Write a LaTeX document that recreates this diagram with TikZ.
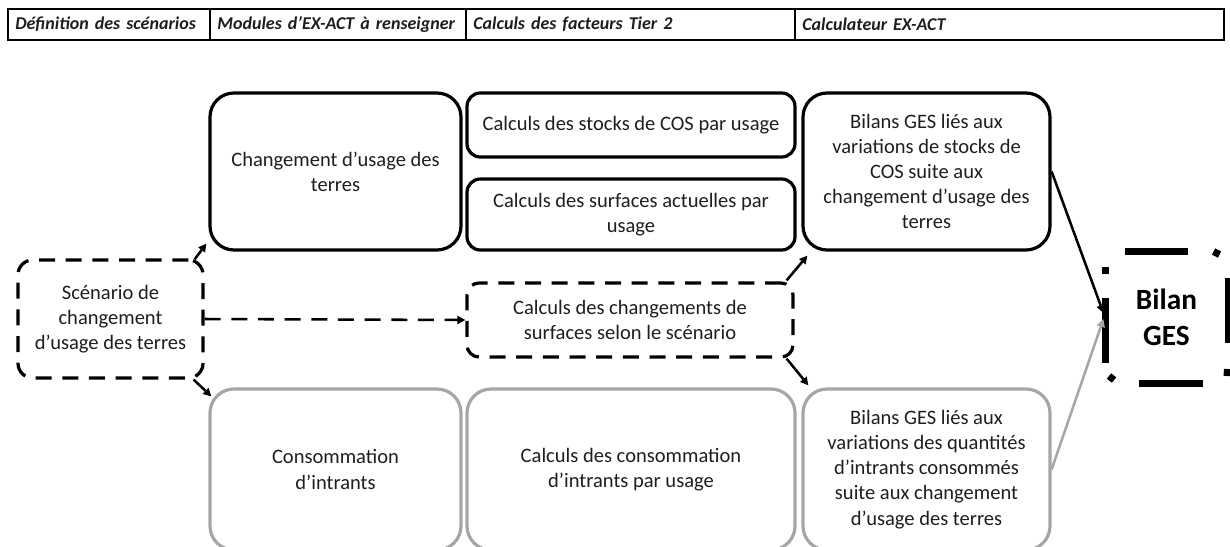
\documentclass[tikz,border=0pt]{standalone}
\usepackage{fontspec}
\setmainfont{Carlito}
\usepackage{xcolor}
\usetikzlibrary{arrows.meta}
\definecolor{ink}{HTML}{1E1E1E}
\definecolor{lightline}{HTML}{A6A6A6}

\begin{document}
\begin{tikzpicture}[x=0.75pt,y=-0.75pt,
    font=\fontsize{15.4}{18.8}\selectfont,text=ink,
    box/.style={draw=black,line width=2.4pt,rounded corners=18pt,align=center,inner sep=0pt},
    greybox/.style={box,draw=lightline},
    dashbox/.style={box,dash pattern=on 12pt off 8pt},
    hcell/.style={draw,line width=0.9pt,minimum height=23.25pt,inner xsep=5.5pt,align=left,
      font=\fontsize{13.5}{16}\selectfont\bfseries\itshape},
    bilanline/.style={line width=5.25pt},
    arr/.style={line width=1.9pt,-{Triangle[length=6pt,width=6pt]}}]
  \useasboundingbox (0,0) rectangle (1230,546);
  \clip (0,0) rectangle (1230,546);

  % bandeau
  \node[hcell,text width=140.5pt] (hdef) at (109,24.5) {Définition des scénarios};
  \node[hcell,text width=181pt] (hmod) at (338,24.5) {Modules d’EX-ACT à renseigner};
  \node[hcell,text width=235.75pt] (hfac) at (630.5,24.5) {Calculs des facteurs Tier 2};
  \node[hcell,text width=310.75pt] (hcal) at (1009.5,24.5) {Calculateur EX-ACT};

  % modules
  \node[dashbox,rounded corners=11pt,minimum width=138.75pt,minimum height=88.5pt] (scen) at (110.5,319)
    {Scénario de\\changement\\d’usage des terres};
  \node[box,minimum width=188.25pt,minimum height=117.75pt] (chg) at (335.5,171.5)
    {Changement d’usage des\\terres};
  \node[greybox,minimum width=188.25pt,minimum height=120.75pt] (conso) at (335.5,469.5)
    {Consommation\\d’intrants};

  % facteurs
  \node[box,rounded corners=10pt,minimum width=246pt,minimum height=48pt] (stock) at (631,125)
    {Calculs des stocks de COS par usage};
  \node[box,rounded corners=10pt,minimum width=246pt,minimum height=53.25pt] (surf) at (631,214.5)
    {Calculs des surfaces actuelles par\\usage};
  \node[dashbox,rounded corners=9pt,minimum width=244.5pt,minimum height=55.5pt] (chsurf) at (630,320)
    {Calculs des changements de\\surfaces selon le scénario};
  \node[greybox,minimum width=246pt,minimum height=120.75pt] (cconso) at (631,469.5)
    {Calculs des consommation\\d’intrants par usage};

  % calculateur
  \node[box,minimum width=185.25pt,minimum height=117.75pt] (bcos) at (926.5,171.5)
    {Bilans GES liés aux\\variations de stocks de\\COS suite aux\\changement d’usage des\\terres};
  \node[greybox,minimum width=185.25pt,minimum height=120.75pt] (bint) at (926.5,469.5)
    {Bilans GES liés aux\\variations des quantités\\d’intrants consommés\\suite aux changement\\d’usage des terres};
  \node[box,draw=none,minimum width=92.25pt,minimum height=99pt,
    font=\fontsize{22}{27}\selectfont\bfseries,text=black] (bilan) at (1166.5,317) {Bilan\\GES};
  % bord tiret-point du bilan
  \foreach \xa/\ya/\xb/\yb in {-61.5/-19/-61.5/46, -41.5/-66/21.5/-66, 61.5/-39/61.5/26,
      -27.5/66/36.5/66, -61.5/-50/-61.5/-43, 47/-65.5/53/-62.5, 61/52/60.5/59, -57.5/59/-52.5/63}
    \draw[bilanline] ([shift={(\xa,\ya)}]bilan.center) -- ([shift={(\xb,\yb)}]bilan.center);

  % fleches
  \draw[arr] ([shift={(-10,1)}]scen.north east) -- ([shift={(-2,-8)}]chg.south west);
  \draw[arr] ([shift={(-11,0)}]scen.south east) -- ([shift={(3,9)}]conso.north west);
  \draw[arr,dash pattern=on 12pt off 8pt] (scen.east) -- (chsurf.west);
  \draw[arr] ([shift={(-8,-1)}]chsurf.north east) -- ([shift={(6,4)}]bcos.south west);
  \draw[arr] ([shift={(-8,0)}]chsurf.south east) -- ([shift={(7,-2)}]bint.north west);
  \draw[arr] (bcos.east) -- ([shift={(0,-4)}]bilan.west);
  \draw[arr,draw=lightline,fill=lightline] (bint.east) -- ([shift={(0,2)}]bilan.west);
\end{tikzpicture}
\end{document}
